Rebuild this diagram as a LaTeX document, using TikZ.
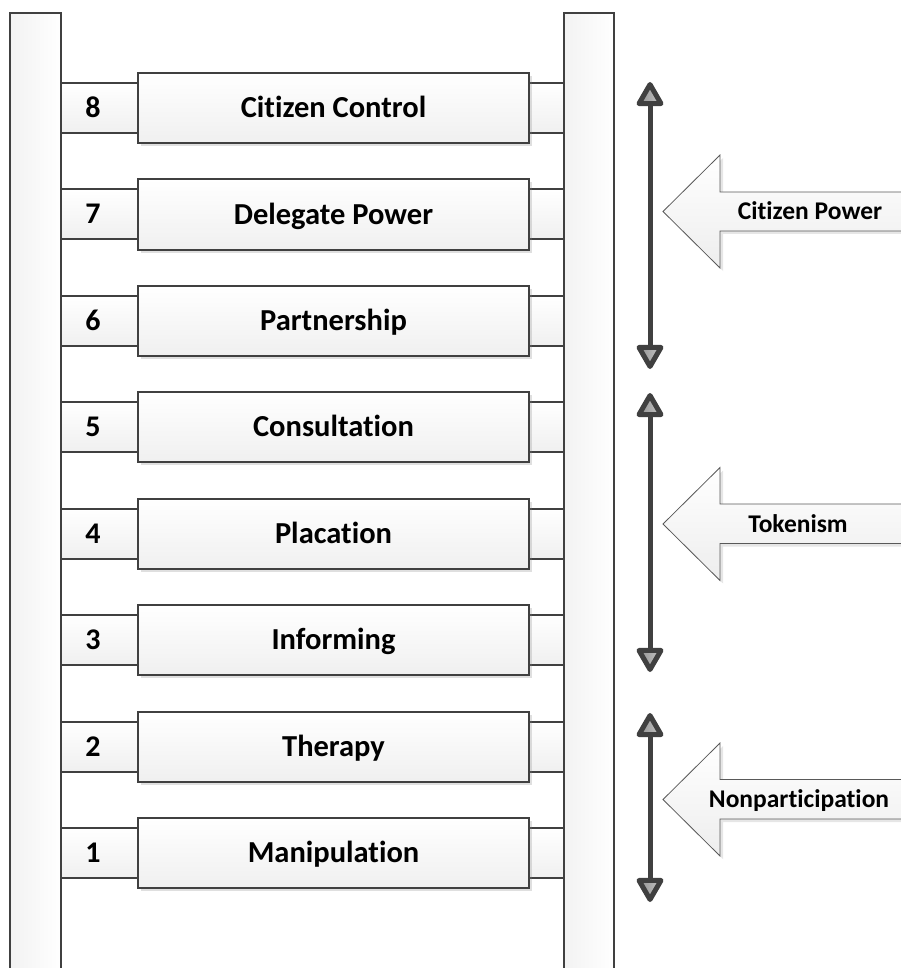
\documentclass[tikz,border=0pt]{standalone}
\usepackage{fontspec}
\setmainfont{Carlito}[Ligatures={NoCommon}]
\usetikzlibrary{shapes.geometric,shadows}

\definecolor{edge}{HTML}{404040}

\begin{document}
\begin{tikzpicture}[x=1pt,y=-1pt,
 rail/.style={draw=edge,line width=2pt,left color=gray!10,right color=white,
   minimum height=970pt,inner sep=0pt},
 rung/.style={draw=edge,line width=2pt,top color=white,bottom color=gray!12,
   minimum width=503pt,minimum height=50pt,inner sep=0pt},
 num/.style={font=\fontsize{30}{36}\selectfont\bfseries,text height=19pt,text depth=0pt},
 stepbox/.style={draw=edge,line width=2pt,top color=white,bottom color=gray!12,
   minimum width=391pt,minimum height=70pt,inner sep=0pt,
   font=\fontsize{30.5}{36}\selectfont\bfseries,text height=19.2pt,text depth=0pt,
   drop shadow={shadow xshift=3pt,shadow yshift=-3pt,opacity=0.25}},
 head/.style={regular polygon,regular polygon sides=3,minimum size=25.4pt,inner sep=0pt,
   draw=edge,line width=5pt,line join=round,left color=gray!85,right color=gray!45},
 down/.style={shape border rotate=180},
 shaft/.style={draw=edge,line width=5pt},
 big/.style={draw=gray!70!black,line width=0.8pt,top color=white,bottom color=gray!14,
   drop shadow={shadow xshift=3pt,shadow yshift=-3pt,opacity=0.2}},
 side/.style={font=\fontsize{25.5}{30}\selectfont\bfseries,text height=16pt,text depth=0pt}]

 \useasboundingbox (0,0) rectangle (900,968);

 % rungs
 \node[rung] (r8) at (312.5,108) {};
 \node[rung] (r7) at (312.5,214.5) {};
 \node[rung] (r6) at (312.5,321) {};
 \node[rung] (r5) at (312.5,427) {};
 \node[rung] (r4) at (312.5,533.5) {};
 \node[rung] (r3) at (312.5,640) {};
 \node[rung] (r2) at (312.5,746.5) {};
 \node[rung] (r1) at (312.5,853) {};

 % rails
 \node[rail,minimum width=51pt,anchor=north] (lrail) at (35.5,12) {};
 \node[rail,minimum width=50pt,anchor=north] (rrail) at (589,12) {};

 \node[num] (n8) at (93,108) {8};
 \node[num] (n7) at (93,214.5) {7};
 \node[num] (n6) at (93,321) {6};
 \node[num] (n5) at (93,427) {5};
 \node[num] (n4) at (93,533.5) {4};
 \node[num] (n3) at (93,640) {3};
 \node[num] (n2) at (93,746.5) {2};
 \node[num] (n1) at (93,853) {1};

 \node[stepbox] (b8) at (333.5,108) {Citizen Control};
 \node[stepbox] (b7) at (333.5,214.5) {Delegate Power};
 \node[stepbox] (b6) at (333.5,321) {Partnership};
 \node[stepbox] (b5) at (333.5,427) {Consultation};
 \node[stepbox] (b4) at (333.5,533.5) {Placation};
 \node[stepbox] (b3) at (333.5,640) {Informing};
 \node[stepbox] (b2) at (333.5,746.5) {Therapy};
 \node[stepbox] (b1) at (333.5,853) {Manipulation};

 % ranges
 \node[head] (powT) at (650,97.2) {};
 \node[head,down] (powB) at (650,353.8) {};
 \node[head] (tokT) at (650,408.2) {};
 \node[head,down] (tokB) at (650,656.8) {};
 \node[head] (nonT) at (650,728.2) {};
 \node[head,down] (nonB) at (650,886.8) {};
 \draw[shaft] (powT) -- (powB);
 \draw[shaft] (tokT) -- (tokB);
 \draw[shaft] (nonT) -- (nonB);

 % big arrows
 \draw[big] (910,192) -- (720,192) -- (720,155) -- (663,211.5)
   -- (720,268) -- (720,231) -- (910,231) -- cycle;
 \draw[big] (910,504) -- (720,504) -- (720,467.5) -- (663,524)
   -- (720,580.5) -- (720,543.5) -- (910,543.5) -- cycle;
 \draw[big] (910,779.5) -- (720,779.5) -- (720,743) -- (663,799.5)
   -- (720,856) -- (720,819) -- (910,819) -- cycle;

 \node[side] (cp) at (810,211.5) {Citizen Power};
 \node[side] (tk) at (798,524) {Tokenism};
 \node[side] (np) at (799,799.5) {Nonparticipation};
\end{tikzpicture}
\end{document}
